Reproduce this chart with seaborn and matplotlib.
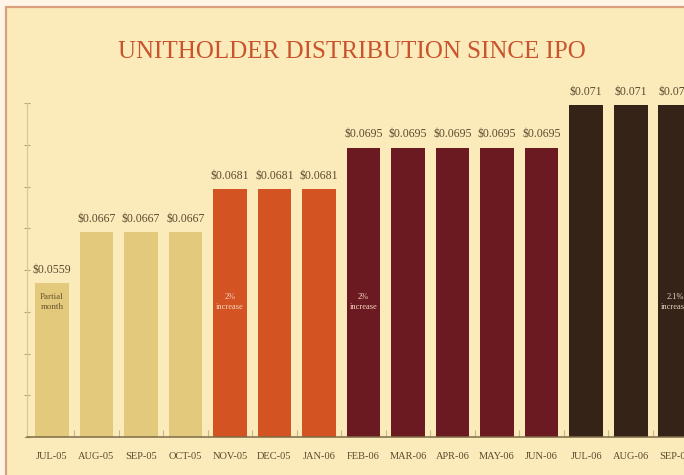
import numpy as np
import pandas as pd
import matplotlib
matplotlib.use("Agg")
import matplotlib.pyplot as plt
from matplotlib.patches import Rectangle
import seaborn as sns

# ---- data ----
months = ["JUL-05", "AUG-05", "SEP-05", "OCT-05", "NOV-05", "DEC-05", "JAN-06",
          "FEB-06", "MAR-06", "APR-06", "MAY-06", "JUN-06", "JUL-06", "AUG-06", "SEP-06"]
values = [0.0559, 0.0667, 0.0667, 0.0667, 0.0681, 0.0681, 0.0681,
          0.0695, 0.0695, 0.0695, 0.0695, 0.0695, 0.071, 0.071, 0.071]
value_labels = ["$0.0559", "$0.0667", "$0.0667", "$0.0667", "$0.0681", "$0.0681", "$0.0681",
                "$0.0695", "$0.0695", "$0.0695", "$0.0695", "$0.0695", "$0.071", "$0.071", "$0.071"]
groups = ["initial"] * 4 + ["step1"] * 3 + ["step2"] * 5 + ["step3"] * 3
notes = {"JUL-05": "Partial\nmonth", "NOV-05": "2%\nincrease",
         "FEB-06": "2%\nincrease", "SEP-06": "2.1%\nincrease"}
title = "UNITHOLDER DISTRIBUTION SINCE IPO"

# ---- styling ----
palette = {"initial": "#E2C97B", "step1": "#D35323", "step2": "#6C1A21", "step3": "#352318"}
note_colors = {"initial": "#6A5430", "step1": "#F6D6BE", "step2": "#F6D6BE", "step3": "#E8D6C0"}
bg = "#FBEBBB"

# stylised (non-linear) value axis of the original graphic
scale_vals = [0.0, 0.0559, 0.0667, 0.0681, 0.0695, 0.071, 0.0725]
scale_pos = [0.0, 3.69, 4.9, 5.94, 6.93, 7.95, 8.5]
def fwd(v):
    return np.interp(v, scale_vals, scale_pos)
def inv(p):
    return np.interp(p, scale_pos, scale_vals)

plt.rcParams["font.family"] = ["Liberation Serif", "DejaVu Serif"]

df = pd.DataFrame({"month": months, "value": values, "group": groups})

fig = plt.figure(figsize=(6.84, 4.75), dpi=100, facecolor="#FEF5E6")
fig.patches.append(Rectangle((6 / 684, -0.1), 1.2, 1.1 - 7 / 475, transform=fig.transFigure,
                             facecolor=bg, edgecolor="#DA9F7C", linewidth=1.6, zorder=-5))

ax = fig.add_axes([27 / 684, 38 / 475, 1 - 27 / 684, 334 / 475])
ax.set_facecolor("none")
ax.set_zorder(2)

sns.barplot(data=df, x="month", y="value", hue="group", palette=palette, order=months,
            width=0.76, dodge=False, legend=False, saturation=1, ax=ax, zorder=2)

ax.set_yscale("function", functions=(fwd, inv))
ax.set_ylim(0, inv(8.0))
ax.set_xlim(-0.56, 14.2)
ax.set_yticks(inv(np.arange(0, 9)))
ax.set_yticklabels([])
ax.set_xticks(range(len(months)))
ax.set_xticklabels(months, fontsize=7.5, color="#5A482B")
ax.set_xticks(np.arange(0.5, len(months) - 0.5, 1), minor=True)
ax.set_xlabel("")
ax.set_ylabel("")

ax.tick_params(axis="x", which="major", length=0, pad=11)
ax.tick_params(axis="x", which="minor", direction="in", length=5, color="#C9B485", width=0.8)
ax.tick_params(axis="y", which="major", direction="inout", length=5, color="#B9A47A", width=0.8)
ax.tick_params(axis="y", which="minor", length=0)

for s in ["top", "right"]:
    ax.spines[s].set_visible(False)
ax.spines["left"].set_color("#D9C898")
ax.spines["left"].set_linewidth(0.9)
ax.spines["bottom"].set_color("#7D6B48")
ax.spines["bottom"].set_linewidth(1.1)
ax.spines["bottom"].set_zorder(3)

for i, (v, lab) in enumerate(zip(values, value_labels)):
    ax.annotate(lab, (i, v), xytext=(0, 9.5), textcoords="offset points",
                ha="center", va="center", fontsize=8.5, color="#5B4A2E", clip_on=False)

for i, m in enumerate(months):
    if m in notes:
        ax.text(i, 0.404, notes[m], transform=ax.get_xaxis_transform(), ha="center", va="center",
                fontsize=6.5 if groups[i] == "initial" else 6, linespacing=1.2,
                color=note_colors[groups[i]], zorder=4)

fig.text(352 / 684, 1 - 52 / 475, title, ha="center", va="center", fontsize=18,
         color="#C9532C")

fig.savefig("out.png", dpi=100, facecolor=fig.get_facecolor())
